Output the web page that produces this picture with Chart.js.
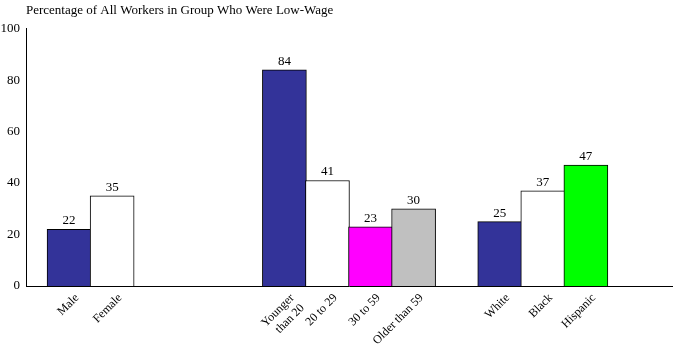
<!DOCTYPE html>
<html>
<head>
<meta charset="utf-8">
<script src="https://cdn.jsdelivr.net/npm/chart.js@4.4.1/dist/chart.umd.min.js"></script>
<style>
  html, body { margin: 0; padding: 0; background: #ffffff; }
  #wrap { width: 676px; height: 344px; position: relative; }
</style>
</head>
<body>
<div id="wrap"><canvas id="c" width="676" height="344"></canvas></div>
<script>
// Categories (empty strings are spacer slots between groups)
const categories = ['', 'Male', 'Female', '', '', '', ['Younger', 'than 20'], '20 to 29', '30 to 59', 'Older than 59', '', 'White', 'Black', 'Hispanic', '', ''];
// Percentage of all workers in group who were low-wage
const values = [null, 22, 35, null, null, null, 84, 41, 23, 30, null, 25, 37, 47, null, null];
const barColors = ['#ffffff', '#333399', '#ffffff', '#ffffff', '#ffffff', '#ffffff', '#333399', '#ffffff', '#ff00ff', '#c0c0c0', '#ffffff', '#333399', '#ffffff', '#00ff00', '#ffffff', '#ffffff'];
const yTicks = [0, 20, 40, 60, 80, 100];
const titleText = 'Percentage of All Workers in Group Who Were Low-Wage';

const SERIF = '"Liberation Serif", "Times New Roman", serif';

const valueLabels = {
  id: 'valueLabels',
  afterDatasetsDraw(chart) {
    const ctx = chart.ctx;
    const meta = chart.getDatasetMeta(0);
    ctx.save();
    ctx.font = '13px ' + SERIF;
    ctx.fillStyle = '#000000';
    ctx.textAlign = 'center';
    ctx.textBaseline = 'bottom';
    meta.data.forEach((el, i) => {
      const v = values[i];
      if (v === null || v === undefined) return;
      ctx.fillText(String(v), el.x, el.y - 2);
    });
    ctx.restore();
  }
};

new Chart(document.getElementById('c'), {
  type: 'bar',
  data: {
    labels: categories,
    datasets: [{
      data: values,
      backgroundColor: barColors,
      borderColor: '#000000',
      borderWidth: 1,
      borderSkipped: 'start',
      barThickness: 44
    }]
  },
  options: {
    responsive: false,
    animation: false,
    devicePixelRatio: 1,
    layout: { padding: { left: 0, right: 4, top: 0, bottom: 0 } },
    plugins: {
      legend: { display: false },
      tooltip: { enabled: false },
      title: {
        display: true,
        text: titleText,
        align: 'start',
        fullSize: false,
        color: '#000000',
        font: { family: SERIF, size: 13, weight: 'normal' },
        padding: { top: 3, bottom: 10 }
      }
    },
    scales: {
      x: {
        type: 'category',
        offset: false,
        grid: { display: false, drawTicks: false },
        border: { display: true, color: '#000000', width: 1 },
        ticks: {
          autoSkip: false,
          minRotation: 45,
          maxRotation: 45,
          labelOffset: 8,
          padding: 5,
          color: '#000000',
          font: { family: SERIF, size: 12 }
        },
        afterFit(scale) {
          scale.height = 58;
          scale.paddingRight = 0;
          scale.paddingLeft = 0;
        }
      },
      y: {
        min: 0,
        max: 100,
        afterBuildTicks(scale) { scale.ticks = yTicks.map(v => ({ value: v })); },
        grid: { display: false, drawTicks: false },
        border: { display: true, color: '#000000', width: 1 },
        ticks: {
          padding: 6,
          color: '#000000',
          font: { family: SERIF, size: 13 }
        },
        afterFit(scale) { scale.width = 26; }
      }
    }
  },
  plugins: [valueLabels]
});
</script>
</body>
</html>
